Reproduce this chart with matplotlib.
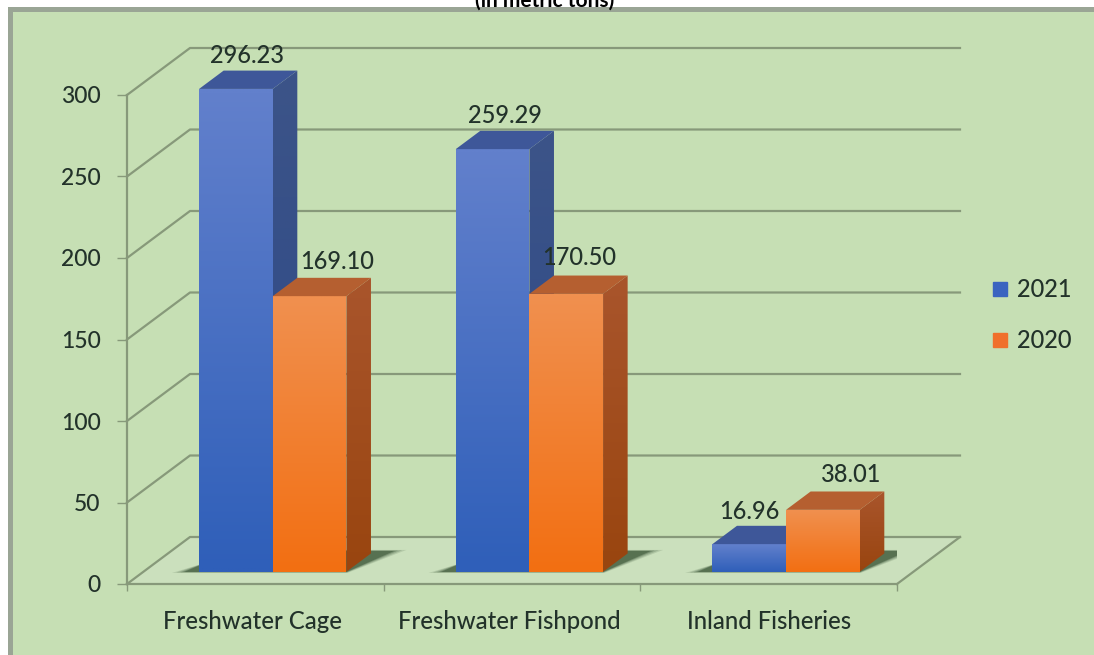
import matplotlib
matplotlib.use('Agg')
import matplotlib.pyplot as plt
import numpy as np
from matplotlib.patches import Polygon, Rectangle
from matplotlib.lines import Line2D

categories = ['Freshwater Cage', 'Freshwater Fishpond', 'Inland Fisheries']
values_2021 = [296.23, 259.29, 16.96]
values_2020 = [169.10, 170.50, 38.01]
labels_2021 = ['296.23', '259.29', '16.96']
labels_2020 = ['169.10', '170.50', '38.01']
y_ticks = [0, 50, 100, 150, 200, 250, 300]
series_names = ['2021', '2020']

plt.rcParams['font.family'] = ['Lato', 'DejaVu Sans']
plt.rcParams['font.weight'] = 'medium'

W, H = 1094, 655
PANEL = '#c6dfb4'
GRID = '#87997a'
TEXT = '#22322a'

# 3d look: depth goes to the back and up, in data units
DX = 63 / 256.67
DY = 47 / 1.63
D0 = 0.26
D1 = 0.65
BAR_W = 0.287

fig = plt.figure(figsize=(W / 100, H / 100), dpi=100, facecolor='white')

# panel with greyish border on top and left
fig.add_artist(Rectangle((8 / W, 0), 1 - 8 / W, 1 - 7 / H, transform=fig.transFigure, fc='#9aa595', ec='none', zorder=-2))
fig.add_artist(Rectangle((13 / W, 0), 1 - 13 / W, 1 - 12 / H, transform=fig.transFigure, fc=PANEL, ec='none', zorder=-1))
fig.text(545 / W, 1 - 1 / H, '(in metric tons)', ha='center', va='center', fontsize=15, fontweight='bold', color='black')

ax = fig.add_axes([127 / W, 1 - 584 / H, 770 / W, 489 / H])
ax.patch.set_alpha(0)
ax.set_xlim(0, 3)
ax.set_ylim(0, 300)


def pt(x, v, d):
    return (x + d * DX, v + d * DY)


# floor, slightly lighter than the walls
ax.add_patch(Polygon([pt(0, 0, 0), pt(3, 0, 0), pt(3, 0, 1), pt(0, 0, 1)], fc='#cbe0bd', ec='none', zorder=1, clip_on=False))

# gridlines: slanted on the side wall, straight on the back wall
for t in y_ticks:
    a, b, c = pt(0, t, 0), pt(0, t, 1), pt(3, t, 1)
    ax.plot([a[0], b[0], c[0]], [a[1], b[1], c[1]], color=GRID, lw=1.6, clip_on=False, zorder=2)
a, b = pt(3, 0, 0), pt(3, 0, 1)
ax.plot([a[0], b[0]], [a[1], b[1]], color=GRID, lw=1.6, clip_on=False, zorder=2)


def grad_face(poly, top_col, bot_col, z):
    xs = [p[0] for p in poly]
    ys = [p[1] for p in poly]
    c0 = np.array(matplotlib.colors.to_rgb(top_col))
    c1 = np.array(matplotlib.colors.to_rgb(bot_col))
    f = np.linspace(0, 1, 64)[:, None, None]
    img = c0[None, None, :] * (1 - f) + c1[None, None, :] * f
    im = ax.imshow(img, extent=(min(xs), max(xs), min(ys), max(ys)), aspect='auto', zorder=z, origin='upper', interpolation='bilinear')
    patch = Polygon(poly, transform=ax.transData, fc='none', ec='none', clip_on=False)
    ax.add_patch(patch)
    # tallest bar pokes out of the front plane, so clip to the figure and not the axes
    im.set_clip_box(fig.bbox)
    im.set_clip_path(patch)


def shadow(x0, x1, z):
    # few stacked polygons stand in for the soft blur
    for g, alpha in zip([0.05, 0.035, 0.02, 0.008], [0.14, 0.2, 0.3, 0.45]):
        poly = [pt(x0 - 0.05 - g, 0, D0 - g * 0.5), pt(x1 + g * 0.2, 0, D0 - g * 0.5),
                pt(x1 + 0.07 + g, 0, D1 + 0.05 + g * 0.5), pt(x0, 0, D1 + 0.05 + g * 0.5), pt(x0 - 0.02, 0, D0 + 0.2)]
        ax.add_patch(Polygon(poly, fc='#2f4a2c', ec='none', alpha=alpha, zorder=z))


def bar3d(x0, x1, v, front, side, top, z):
    fl, fr = pt(x0, 0, D0), pt(x1, 0, D0)
    tl, tr = pt(x0, v, D0), pt(x1, v, D0)
    bl, br = pt(x0, v, D1), pt(x1, v, D1)
    sb = pt(x1, 0, D1)
    grad_face([fl, fr, tr, tl], front[0], front[1], z + 0.2)
    grad_face([fr, sb, br, tr], side[0], side[1], z + 0.1)
    ax.add_patch(Polygon([tl, tr, br, bl], fc=top, ec='none', zorder=z + 0.3, clip_on=False))


blue = (('#6280cc', '#2f5fb9'), ('#3c5488', '#2c4888'), '#3e5799')
orange = (('#f0904f', '#f36f12'), ('#a9552c', '#99450f'), '#b55f30')

for i in range(3):
    mid = i + 0.504
    shadow(mid - BAR_W, mid + BAR_W, 3)
    bar3d(mid - BAR_W, mid, values_2021[i], blue[0], blue[1], blue[2], 4)
    bar3d(mid, mid + BAR_W, values_2020[i], orange[0], orange[1], orange[2], 5)

# value labels, pixel nudges from the bar top since they are placed by hand in the original
nudge_2021 = [(11, 33), (12, 34), (0, 33)]
nudge_2020 = [(28, 35), (13, 36), (28, 35)]
for i in range(3):
    mid = i + 0.504
    for cx, v, txt, nd in [(mid - BAR_W / 2, values_2021[i], labels_2021[i], nudge_2021[i]),
                           (mid + BAR_W / 2, values_2020[i], labels_2020[i], nudge_2020[i])]:
        ax.annotate(txt, xy=pt(cx, v, D0), xytext=(nd[0] * 0.72, nd[1] * 0.72), textcoords='offset points',
                    ha='center', va='center', fontsize=17, color=TEXT, zorder=8, annotation_clip=False)

ax.set_xlim(0, 3)
ax.set_ylim(0, 300)
for s in ['top', 'right']:
    ax.spines[s].set_visible(False)
for s in ['left', 'bottom']:
    ax.spines[s].set_color(GRID)
    ax.spines[s].set_linewidth(1.6)
    ax.spines[s].set_zorder(3)
ax.set_yticks(y_ticks)
ax.set_xticks([0, 1, 2, 3])
ax.set_xticklabels([])
ax.set_xticks([0.49, 1.49, 2.5], minor=True)
ax.set_xticklabels(categories, minor=True)
ax.tick_params(axis='x', which='major', length=5, color=GRID, width=1)
ax.tick_params(axis='x', which='minor', length=0, pad=19, labelsize=17.2, labelcolor=TEXT)
ax.tick_params(axis='y', length=7, color=GRID, width=1, pad=12, labelsize=16.5, labelcolor=TEXT)

handles = [Line2D([], [], ls='', marker='s', ms=10.5, color='#3a64c0'),
           Line2D([], [], ls='', marker='s', ms=10.5, color='#f0702c')]
ax.legend(handles, series_names, loc='center left', bbox_to_anchor=(992 / W, 1 - 315 / H),
          bbox_transform=fig.transFigure, frameon=False, fontsize=17, labelcolor=TEXT,
          handlelength=0.65, handletextpad=0.4, labelspacing=1.2, borderpad=0, borderaxespad=0)

fig.savefig('out.png', dpi=100)
